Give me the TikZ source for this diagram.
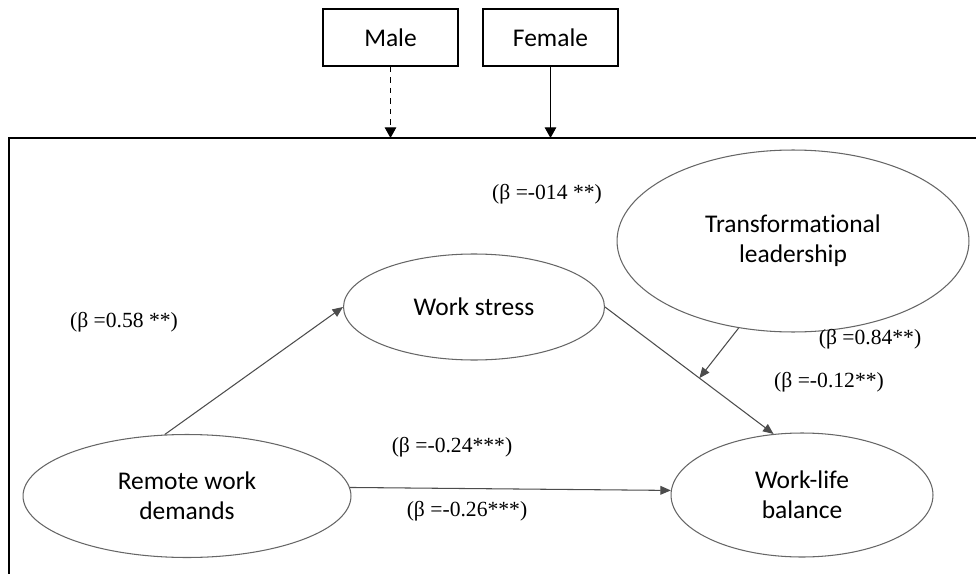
\documentclass[tikz,border=0pt]{standalone}
\usepackage{fontspec}
\setmainfont{Liberation Serif}
\newfontfamily\carlito[Ligatures=NoCommon]{Carlito}
\usetikzlibrary{arrows.meta,shapes.geometric}
\tikzset{
  construct/.style={draw=black!60, line width=0.6pt, ellipse, inner sep=0pt, align=center,
    font=\carlito\fontsize{14.5}{17}\selectfont},
  groupbox/.style={draw, line width=0.9pt, inner sep=0pt, minimum width=2.7cm, minimum height=1.14cm,
    font=\carlito\fontsize{14.5}{17}\selectfont},
  coef/.style={font=\fontsize{12.3}{14}\selectfont, inner sep=0pt},
  path/.style={draw=black!70, line width=0.6pt, -{Triangle[length=6pt,width=5pt]}},
  moderate/.style={draw=black, line width=0.6pt, -{Triangle[length=6pt,width=6.5pt]}}
}
\begin{document}
\begin{tikzpicture}[x=0.02cm, y=-0.02cm]
\useasboundingbox (0,0) rectangle (976,574);
% group boxes and frame
\node[groupbox] (male) at (390.5,37.5) {Male};
\node[groupbox] (female) at (550.5,37.5) {Female};
\draw[line width=1.2pt] (976,138) -| (9,574);
\coordinate (frametop) at (0,138);
\path[moderate,dashed] (male.south) -- (male.south |- frametop);
\path[moderate] (female.south) -- (female.south |- frametop);
% constructs
\node[construct, minimum width=6.56cm, minimum height=2.46cm] (rwd) at (187,496) {Remote work\\demands};
\node[construct, minimum width=5.22cm, minimum height=2.12cm] (ws) at (474,307) {Work stress};
\node[construct, minimum width=7.04cm, minimum height=3.64cm] (tl) at (793,241) {Transformational\\leadership};
\node[construct, minimum width=5.24cm, minimum height=2.48cm] (wlb) at (802,495) {Work-life\\balance};
% paths
\path[path] (rwd.110) -- (ws.west);
\path[path] (ws.east) -- coordinate[pos=0.56] (mod) (wlb.115);
\path[path] (tl.238) -- (mod);
\path[path] (rwd.3) -- (wlb.178);
% coefficients
\node[coef] (c1) at (124,322) {(β =0.58 **)};
\node[coef] (c2) at (547,194) {(β =-014 **)};
\node[coef] (c3) at (870,339) {(β =0.84**)};
\node[coef] (c4) at (829,382) {(β =-0.12**)};
\node[coef] (c5) at (452,447) {(β =-0.24***)};
\node[coef] (c6) at (467,511) {(β =-0.26***)};
\end{tikzpicture}
\end{document}
